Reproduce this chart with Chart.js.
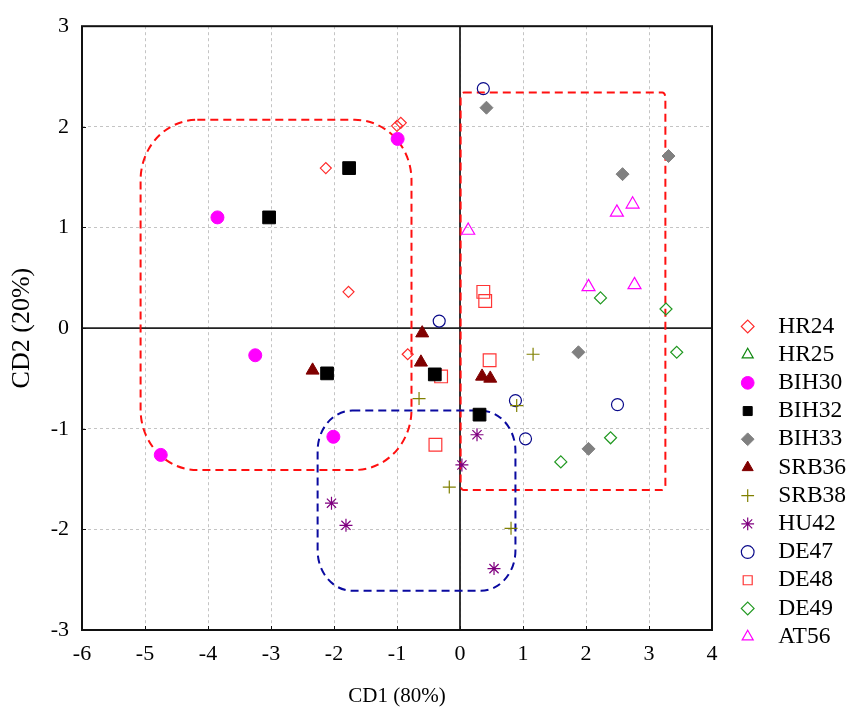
<!DOCTYPE html>
<html>
<head>
<meta charset="utf-8">
<script src="https://cdn.jsdelivr.net/npm/chart.js@4"></script>
<style>
  html, body { margin: 0; padding: 0; background: #fff; }
</style>
</head>
<body>
<canvas id="cdaChart" width="848" height="709"></canvas>
<script>
"use strict";
// discriminant scores, [CD1, CD2] per sample
const seriesNames = ['HR24', 'HR25', 'BIH30', 'BIH32', 'BIH33', 'SRB36', 'SRB38', 'HU42', 'DE47', 'DE48', 'DE49', 'AT56'];
const hr24 = [[-1.00, 2.01], [-0.94, 2.04], [-2.13, 1.59], [-1.77, 0.36], [-0.83, -0.26]];
const hr25 = [];
const bih30 = [[-0.99, 1.88], [-3.85, 1.10], [-3.25, -0.27], [-4.75, -1.26], [-2.01, -1.08]];
const bih32 = [[-1.76, 1.59], [-3.03, 1.10], [-2.11, -0.45], [-0.40, -0.46], [0.31, -0.86]];
const bih33 = [[0.42, 2.19], [3.31, 1.71], [2.58, 1.53], [1.88, -0.24], [2.04, -1.20]];
const srb36 = [[-2.34, -0.42], [-0.60, -0.05], [-0.62, -0.34], [0.35, -0.48], [0.48, -0.50]];
const srb38 = [[1.16, -0.26], [-0.65, -0.70], [0.90, -0.77], [-0.17, -1.58], [0.81, -1.99]];
const hu42 = [[-2.04, -1.74], [-1.81, -1.96], [0.27, -1.06], [0.03, -1.36], [0.54, -2.39]];
const de47 = [[0.37, 2.38], [-0.33, 0.07], [0.88, -0.72], [2.50, -0.76], [1.04, -1.10]];
const de48 = [[0.37, 0.36], [0.40, 0.27], [-0.30, -0.48], [0.47, -0.32], [-0.39, -1.16]];
const de49 = [[2.23, 0.30], [3.27, 0.19], [3.44, -0.24], [2.39, -1.09], [1.60, -1.33]];
const at56 = [[0.13, 0.97], [2.49, 1.15], [2.74, 1.23], [2.04, 0.41], [2.77, 0.43]];
const xTicks = [-6, -5, -4, -3, -2, -1, 0, 1, 2, 3, 4];
const yTicks = [-3, -2, -1, 0, 1, 2, 3];

// group outlines (data units): left/right/bottom/top, corner radii
const groups = [
    { l: -5.07, r: -0.77, b: -1.41, t: 2.07, rx: 0.9, ry: 0.6, color: '#ff1010' },
    { l: 0.01, r: 3.26, b: -1.61, t: 2.34, rx: 0.05, ry: 0.05, color: '#ff1010' },
    { l: -2.26, r: 0.88, b: -2.61, t: -0.82, rx: 0.55, ry: 0.4, color: '#0a0aa0' }
];

const allData = [hr24, hr25, bih30, bih32, bih33, srb36, srb38, hu42, de47, de48, de49, at56];
const styles = [
    { shape: 'rectRot', color: '#ff2a2a', fill: false, r: 5.5 },
    { shape: 'triangle', color: '#118811', fill: false, r: 7 },
    { shape: 'circle', color: '#ff00ff', fill: true, r: 6.5 },
    { shape: 'rect', color: '#000000', fill: true, r: 9 },
    { shape: 'rectRot', color: '#808080', fill: true, r: 6.5 },
    { shape: 'triangle', color: '#800000', fill: true, r: 7.5 },
    { shape: 'cross', color: '#808000', fill: false, r: 6.5 },
    { shape: 'star', color: '#800080', fill: false, r: 6.5 },
    { shape: 'circle', color: '#0a0a8a', fill: false, r: 6 },
    { shape: 'rect', color: '#ff3535', fill: false, r: 9 },
    { shape: 'rectRot', color: '#229922', fill: false, r: 6 },
    { shape: 'triangle', color: '#ff00ff', fill: false, r: 7.5 }
];

const datasets = seriesNames.map((name, i) => ({
    label: name,
    data: allData[i].map(p => ({ x: p[0], y: p[1] })),
    pointStyle: styles[i].shape,
    pointRadius: styles[i].r,
    pointHoverRadius: styles[i].r,
    borderColor: styles[i].color,
    backgroundColor: styles[i].fill ? styles[i].color : 'rgba(255,255,255,0)',
    borderWidth: styles[i].fill ? 1 : 1.2,
    showLine: false
}));

function roundedBox(ctx, L, T, R, B, rx, ry) {
    ctx.beginPath();
    ctx.moveTo(L + rx, T);
    ctx.lineTo(R - rx, T);
    ctx.ellipse(R - rx, T + ry, rx, ry, 0, -Math.PI / 2, 0);
    ctx.lineTo(R, B - ry);
    ctx.ellipse(R - rx, B - ry, rx, ry, 0, 0, Math.PI / 2);
    ctx.lineTo(L + rx, B);
    ctx.ellipse(L + rx, B - ry, rx, ry, 0, Math.PI / 2, Math.PI);
    ctx.lineTo(L, T + ry);
    ctx.ellipse(L + rx, T + ry, rx, ry, 0, Math.PI, Math.PI * 1.5);
    ctx.closePath();
}

const decorations = {
    id: 'decorations',
    afterLayout(chart) {
        // legend sits outside the plot on the right
        const lg = chart.legend;
        const w = lg.width, h = lg.height;
        lg.left = 736; lg.right = 736 + w;
        lg.top = 310; lg.bottom = 310 + h;
    },
    beforeDatasetsDraw(chart) {
        const { ctx, chartArea: a, scales: { x, y } } = chart;
        ctx.save();
        // zero lines
        ctx.strokeStyle = '#222';
        ctx.lineWidth = 1.8;
        ctx.beginPath();
        ctx.moveTo(x.getPixelForValue(0), a.top);
        ctx.lineTo(x.getPixelForValue(0), a.bottom);
        ctx.moveTo(a.left, y.getPixelForValue(0));
        ctx.lineTo(a.right, y.getPixelForValue(0));
        ctx.stroke();
        // group outlines
        ctx.lineWidth = 2;
        ctx.setLineDash([8, 5]);
        groups.forEach(g => {
            const L = x.getPixelForValue(g.l), R = x.getPixelForValue(g.r);
            const T = y.getPixelForValue(g.t), B = y.getPixelForValue(g.b);
            const rx = g.rx * Math.abs(x.getPixelForValue(1) - x.getPixelForValue(0));
            const ry = g.ry * Math.abs(y.getPixelForValue(1) - y.getPixelForValue(0));
            ctx.strokeStyle = g.color;
            roundedBox(ctx, L, T, R, B, rx, ry);
            ctx.stroke();
        });
        ctx.restore();
    },
    afterDraw(chart) {
        const { ctx, chartArea: a, scales: { x, y } } = chart;
        ctx.save();
        ctx.strokeStyle = '#111';
        ctx.lineWidth = 1;
        ctx.beginPath();
        xTicks.forEach(v => {
            const px = Math.round(x.getPixelForValue(v)) + 0.5;
            ctx.moveTo(px, a.bottom);
            ctx.lineTo(px, a.bottom - 4);
        });
        yTicks.forEach(v => {
            const py = Math.round(y.getPixelForValue(v)) + 0.5;
            ctx.moveTo(a.left, py);
            ctx.lineTo(a.left + 4, py);
        });
        ctx.stroke();
        ctx.lineWidth = 2;
        ctx.strokeRect(a.left, a.top, a.right - a.left, a.bottom - a.top);
        ctx.restore();
    }
};

const family = "'Liberation Serif', 'Times New Roman', serif";

new Chart(document.getElementById('cdaChart'), {
    type: 'scatter',
    data: { datasets: datasets },
    options: {
        responsive: false,
        devicePixelRatio: 1,
        animation: false,
        layout: { padding: { top: 25, right: 136, bottom: 0, left: 0 } },
        scales: {
            x: {
                type: 'linear',
                min: xTicks[0],
                max: xTicks[xTicks.length - 1],
                afterBuildTicks: s => { s.ticks = xTicks.map(v => ({ value: v })); },
                afterFit: s => { s.height = 79; },
                ticks: { color: '#000', font: { family, size: 22 }, padding: 11 },
                grid: { color: '#c4c4c4', drawTicks: false, lineWidth: 1 },
                border: { display: false, dash: [3, 3] },
                title: { display: true, text: 'CD1 (80%)', color: '#000', font: { family, size: 21 }, padding: { top: 0, bottom: 0 } }
            },
            y: {
                type: 'linear',
                min: yTicks[0],
                max: yTicks[yTicks.length - 1],
                afterBuildTicks: s => { s.ticks = yTicks.map(v => ({ value: v })); },
                afterFit: s => { s.width = 82; },
                ticks: { color: '#000', font: { family, size: 22 }, padding: 13 },
                grid: { color: '#c4c4c4', drawTicks: false, lineWidth: 1 },
                border: { display: false, dash: [3, 3] },
                title: { display: true, text: 'CD2 (20%)', color: '#000', font: { family, size: 26 }, padding: { top: 7, bottom: 0 } }
            }
        },
        plugins: {
            tooltip: { enabled: false },
            legend: {
                position: 'chartArea',
                align: 'start',
                labels: {
                    usePointStyle: true,
                    boxWidth: 14,
                    boxHeight: 9,
                    padding: 4.7,
                    color: '#000',
                    font: { family, size: 23.5 },
                    generateLabels: chart => Chart.defaults.plugins.legend.labels.generateLabels(chart)
                        .map(item => Object.assign(item, { text: '\u2002' + item.text }))
                }
            }
        }
    },
    plugins: [decorations]
});
</script>
</body>
</html>
